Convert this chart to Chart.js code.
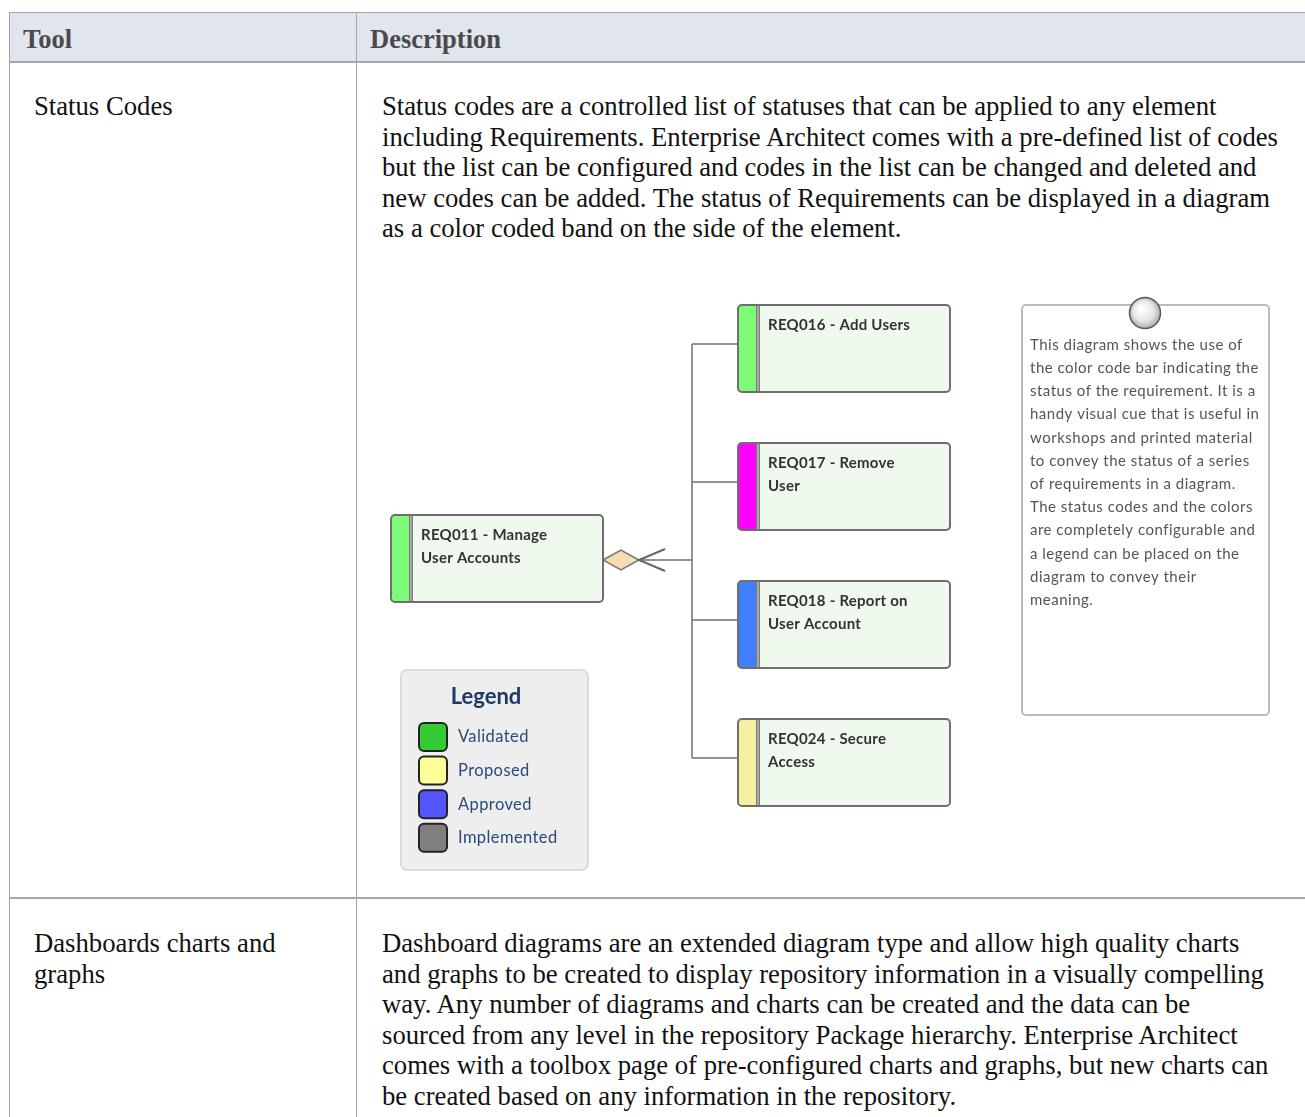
<!DOCTYPE html>
<html>
<head>
<meta charset="utf-8">
<script src="https://cdn.jsdelivr.net/npm/chart.js@4.4.1/dist/chart.umd.min.js"></script>
<style>
  html, body { margin: 0; padding: 0; background: #fff; }
  body { width: 1305px; height: 1117px; position: relative; overflow: hidden; font-family: "Liberation Serif", "Times New Roman", serif; }
  .hdr { position: absolute; left: 9px; top: 12px; width: 1310px; height: 48px; background: #e1e5ee;
         border-top: 1px solid #a4a4a4; border-bottom: 2px solid #a8a8a8; }
  .vline { position: absolute; top: 12px; width: 1px; height: 1110px; background: #a4a4a4; }
  .hline { position: absolute; left: 9px; width: 1300px; height: 2px; background: #a8a8a8; }
  .th { position: absolute; top: 22px; font-weight: bold; font-size: 26.5px; color: #4a4a4a; line-height: 34px; }
  .txt { position: absolute; font-size: 26.7px; line-height: 30.6px; color: #111; white-space: nowrap; }
  #diagramWrap { position: absolute; left: 380px; top: 285px; width: 910px; height: 600px; }
</style>
</head>
<body>
<div class="hdr"></div>
<div class="vline" style="left:9px"></div>
<div class="vline" style="left:356px"></div>
<div class="hline" style="top:897px"></div>
<div class="th" style="left:23px">Tool</div>
<div class="th" style="left:370px">Description</div>

<div class="txt" id="tool1" style="left:34px; top:91px"></div>
<div class="txt" id="desc1" style="left:382px; top:91px"></div>
<div class="txt" id="tool2" style="left:34px; top:928px"></div>
<div class="txt" id="desc2" style="left:382px; top:928px"></div>

<div id="diagramWrap"><canvas id="diagram"></canvas></div>

<script>
// Table text
const toolNames = [['Status Codes'], ['Dashboards charts and', 'graphs']];
const toolDescriptions = [
  ['Status codes are a controlled list of statuses that can be applied to any element',
   'including Requirements. Enterprise Architect comes with a pre-defined list of codes',
   'but the list can be configured and codes in the list can be changed and deleted and',
   'new codes can be added. The status of Requirements can be displayed in a diagram',
   'as a color coded band on the side of the element.'],
  ['Dashboard diagrams are an extended diagram type and allow high quality charts',
   'and graphs to be created to display repository information in a visually compelling',
   'way. Any number of diagrams and charts can be created and the data can be',
   'sourced from any level in the repository Package hierarchy. Enterprise Architect',
   'comes with a toolbox page of pre-configured charts and graphs, but new charts can',
   'be created based on any information in the repository.']
];

// Diagram content
const reqTitles = [
  ['REQ011 - Manage', 'User Accounts'],
  ['REQ016 - Add Users'],
  ['REQ017 - Remove', 'User'],
  ['REQ018 - Report on', 'User Account'],
  ['REQ024 - Secure', 'Access']
];
const reqStatusColors = ['#7ffb7a', '#7ffb7a', '#ff00ff', '#4080ff', '#f4f2a0'];
const legendStatuses = ['Validated', 'Proposed', 'Approved', 'Implemented'];
const legendColors = ['#33cc33', '#ffff99', '#5555ff', '#808080'];
const noteLines = [
  'This diagram shows the use of', 'the color code bar indicating the',
  'status of the requirement. It is a', 'handy visual cue that is useful in',
  'workshops and printed material', 'to convey the status of a series',
  'of requirements in a diagram.', 'The status codes and the colors',
  'are completely configurable and', 'a legend can be placed on the',
  'diagram to convey their', 'meaning.'
];

function fillLines(id, lines) {
  document.getElementById(id).innerHTML = lines.map(l => '<div>' + l + '</div>').join('');
}
fillLines('tool1', toolNames[0]);
fillLines('desc1', toolDescriptions[0]);
fillLines('tool2', toolNames[1]);
fillLines('desc2', toolDescriptions[1]);

// layout (diagram units, same as page pixels)
const parentBox = { x: 391, y: 515 };
const childBoxes = [{ x: 738, y: 305 }, { x: 738, y: 443 }, { x: 738, y: 581 }, { x: 738, y: 719 }];
const boxW = 212, boxH = 87, trunkX = 692;

function rrect(ctx, x, y, w, h, r) {
  ctx.beginPath();
  ctx.moveTo(x + r, y);
  ctx.arcTo(x + w, y, x + w, y + h, r);
  ctx.arcTo(x + w, y + h, x, y + h, r);
  ctx.arcTo(x, y + h, x, y, r);
  ctx.arcTo(x, y, x + w, y, r);
  ctx.closePath();
}

const diagramPlugin = {
  id: 'diagram',
  afterDraw(chart) {
    const ctx = chart.ctx;
    const sx = chart.scales.x, sy = chart.scales.y;
    const px = v => sx.getPixelForValue(v);
    const py = v => sy.getPixelForValue(v);
    ctx.save();

    // connectors
    ctx.strokeStyle = '#707070';
    ctx.lineWidth = 1.5;
    const midYs = childBoxes.map(b => b.y + 39);
    ctx.beginPath();
    ctx.moveTo(px(trunkX), py(midYs[0]));
    ctx.lineTo(px(trunkX), py(midYs[midYs.length - 1]));
    midYs.forEach(my => { ctx.moveTo(px(trunkX), py(my)); ctx.lineTo(px(738), py(my)); });
    const pMid = parentBox.y + 45;
    ctx.moveTo(px(640), py(pMid));
    ctx.lineTo(px(trunkX), py(pMid));
    ctx.stroke();
    // diamond
    const dx0 = parentBox.x + boxW;
    ctx.beginPath();
    ctx.moveTo(px(dx0), py(pMid));
    ctx.lineTo(px(dx0 + 18), py(pMid - 10));
    ctx.lineTo(px(dx0 + 36), py(pMid));
    ctx.lineTo(px(dx0 + 18), py(pMid + 10));
    ctx.closePath();
    ctx.fillStyle = '#f6dcb0';
    ctx.fill();
    ctx.strokeStyle = '#777';
    ctx.stroke();
    // open arrow
    ctx.beginPath();
    ctx.moveTo(px(dx0 + 62), py(pMid - 11));
    ctx.lineTo(px(dx0 + 36), py(pMid));
    ctx.lineTo(px(dx0 + 62), py(pMid + 11));
    ctx.strokeStyle = '#666';
    ctx.lineWidth = 2;
    ctx.stroke();

    // requirement boxes
    const boxes = [parentBox].concat(childBoxes);
    boxes.forEach((b, i) => {
      const x = px(b.x), y = py(b.y), w = px(b.x + boxW) - x, h = py(b.y + boxH) - y;
      rrect(ctx, x, y, w, h, 4);
      ctx.fillStyle = '#f0f9ee';
      ctx.fill();
      ctx.save();
      ctx.clip();
      ctx.fillStyle = reqStatusColors[i];
      ctx.fillRect(x, y, 18, h);
      ctx.fillStyle = '#7a7a7a';
      ctx.fillRect(x + 18, y, 4, h);
      ctx.fillStyle = '#d8d8d8';
      ctx.fillRect(x + 19.5, y, 1, h);
      ctx.restore();
      rrect(ctx, x, y, w, h, 4);
      ctx.strokeStyle = '#6e6e6e';
      ctx.lineWidth = 2;
      ctx.stroke();
      ctx.fillStyle = '#333';
      ctx.font = 'bold 15px Lato';
      ctx.letterSpacing = '0.25px';
      ctx.textBaseline = 'middle';
      reqTitles[i].forEach((t, k) => ctx.fillText(t, x + 30, y + 20 + k * 23.5));
    });

    // legend
    const lx = px(401), ly = py(670);
    rrect(ctx, lx, ly, px(588) - lx, py(870) - ly, 6);
    ctx.fillStyle = '#eeeeee';
    ctx.fill();
    ctx.strokeStyle = '#dcdcdc';
    ctx.lineWidth = 2;
    ctx.stroke();
    ctx.fillStyle = '#1f3864';
    ctx.font = 'bold 22px Lato';
    ctx.letterSpacing = '0px';
    ctx.textAlign = 'center';
    ctx.fillText('Legend', px(486), py(697));
    ctx.textAlign = 'left';
    legendStatuses.forEach((s, i) => {
      const top = py(723 + i * 33.6);
      rrect(ctx, px(419), top, 28, 28, 5);
      ctx.fillStyle = legendColors[i];
      ctx.fill();
      ctx.strokeStyle = '#222';
      ctx.lineWidth = 2;
      ctx.stroke();
      ctx.fillStyle = '#2a4a7a';
      ctx.font = '16.5px Lato';
      ctx.letterSpacing = '0.4px';
      ctx.fillText(s, px(458), top + 14);
    });

    // note
    const nx = px(1022), ny = py(305);
    rrect(ctx, nx, ny, px(1269) - nx, py(715) - ny, 4);
    ctx.fillStyle = '#fff';
    ctx.fill();
    ctx.strokeStyle = '#bbbbbb';
    ctx.lineWidth = 2;
    ctx.stroke();
    const cx = px(1145), cy = py(313);
    const g = ctx.createRadialGradient(cx - 4, cy - 5, 2, cx, cy, 16);
    g.addColorStop(0, '#ffffff');
    g.addColorStop(0.6, '#e4e4e4');
    g.addColorStop(1, '#a8a8a8');
    ctx.beginPath();
    ctx.arc(cx, cy, 15.5, 0, Math.PI * 2);
    ctx.fillStyle = g;
    ctx.fill();
    ctx.strokeStyle = '#5a5a5a';
    ctx.lineWidth = 1.5;
    ctx.stroke();
    ctx.fillStyle = '#555';
    ctx.font = '15px Lato';
    ctx.letterSpacing = '0.5px';
    noteLines.forEach((t, k) => ctx.fillText(t, px(1030), py(345 + k * 23.2)));

    ctx.restore();
  }
};

new Chart(document.getElementById('diagram'), {
  type: 'scatter',
  data: { datasets: [{ data: [], pointRadius: 0 }] },
  options: {
    responsive: true,
    maintainAspectRatio: false,
    animation: false,
    events: [],
    layout: { padding: 0 },
    plugins: { legend: { display: false }, tooltip: { enabled: false } },
    scales: {
      x: { type: 'linear', display: false, min: 380, max: 1290 },
      y: { type: 'linear', display: false, min: 285, max: 885, reverse: true }
    }
  },
  plugins: [diagramPlugin]
});
</script>
</body>
</html>
